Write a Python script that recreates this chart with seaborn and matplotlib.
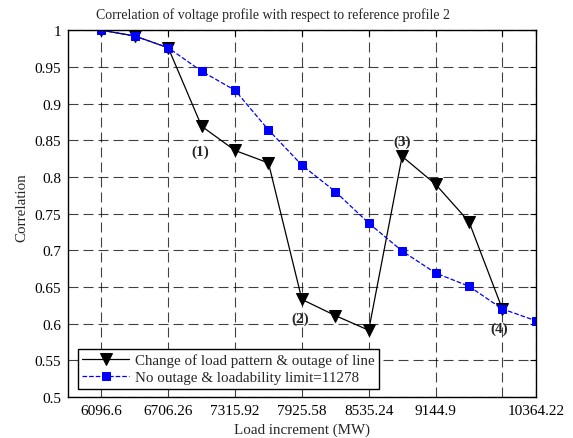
import matplotlib
matplotlib.use("Agg")
import matplotlib.pyplot as plt
import seaborn as sns
import pandas as pd

sns.set_theme(style="white")
plt.rcParams["font.family"] = ["Liberation Serif", "DejaVu Serif"]
plt.rcParams["mathtext.fontset"] = "stix"

# Load steps (index along the load increment axis)
step_outage = list(range(13))
step_base = list(range(14))

corr_outage = [1.0, 0.992, 0.976, 0.869, 0.836, 0.819, 0.633, 0.611, 0.591,
               0.828, 0.790, 0.739, 0.620]
corr_base = [1.0, 0.992, 0.976, 0.944, 0.918, 0.864, 0.816, 0.780, 0.737,
             0.699, 0.669, 0.651, 0.620, 0.604]

tick_steps = [0, 2, 4, 6, 8, 10, 12, 13]
tick_labels = ["6096.6", "6706.26", "7315.92", "7925.58", "8535.24",
               "9144.9", "", "10364.22"]

label_outage = "Change of load pattern & outage of line"
label_base = "No outage & loadability limit=11278"

notes = ["(1)", "(2)", "(3)", "(4)"]
note_steps = [2.97, 5.95, 9.0, 11.9]
note_vals = [0.835, 0.608, 0.849, 0.594]

df_outage = pd.DataFrame({"step": step_outage, "corr": corr_outage})
df_base = pd.DataFrame({"step": step_base, "corr": corr_base})

fig = plt.figure(figsize=(5.73, 4.39), dpi=100)
ax = fig.add_axes([0.1187, 0.0934, 0.8163, 0.8356])

sns.lineplot(data=df_outage, x="step", y="corr", ax=ax, color="black",
             marker="v", markersize=8.5, markeredgecolor="black",
             linewidth=0.9, label=label_outage)
sns.lineplot(data=df_base, x="step", y="corr", ax=ax, color="blue",
             marker="s", markersize=5.5, markeredgecolor="blue",
             linewidth=0.9, linestyle="--", dashes=(5, 5), label=label_base)

ax.set_xlim(-1, 13)
ax.set_ylim(0.5, 1.0)
ax.set_xticks(tick_steps)
ax.set_xticklabels(tick_labels)
yt = [0.5, 0.55, 0.6, 0.65, 0.7, 0.75, 0.8, 0.85, 0.9, 0.95, 1.0]
ax.set_yticks(yt)
ax.set_yticklabels(["0.5", "0.55", "0.6", "0.65", "0.7", "0.75", "0.8",
                    "0.85", "0.9", "0.95", "1"])

ax.grid(True, color="black", linestyle=(0, (9, 4.5)), linewidth=0.8, alpha=0.75)
ax.set_axisbelow(True)
ax.tick_params(direction="in", length=4, width=0.8, top=True, right=True,
               labelsize=11, colors="black", pad=5)
for s in ax.spines.values():
    s.set_color("black")
    s.set_linewidth(1.0)

ax.set_title("Correlation of voltage profile with respect to reference profile 2",
             fontsize=10, pad=9, x=0.439)
ax.set_xlabel("Load increment (MW)", fontsize=10.8, labelpad=4)
ax.set_ylabel("Correlation", fontsize=10.8, labelpad=6)
ax.yaxis.set_label_coords(-0.084, 0.518)

for t, xs, ys in zip(notes, note_steps, note_vals):
    ax.text(xs, ys, t, ha="center", va="center", fontsize=11,
            fontweight="bold")

leg = ax.legend(loc="lower left", bbox_to_anchor=(0.021, 0.022), fontsize=10.8,
                frameon=True, fancybox=False, framealpha=1, edgecolor="black",
                handlelength=3.1, borderpad=0.3, labelspacing=0.25,
                handletextpad=0.4, borderaxespad=0)
leg.get_frame().set_linewidth(1.0)

fig.savefig("out.png", dpi=100)
